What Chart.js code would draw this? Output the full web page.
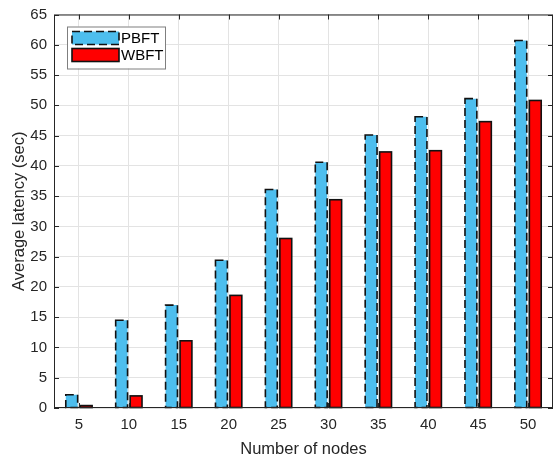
<!DOCTYPE html>
<html>
<head>
<meta charset="utf-8">
<script src="https://cdn.jsdelivr.net/npm/chart.js@4.4.1/dist/chart.umd.min.js"></script>
<style>
  html, body { margin: 0; padding: 0; background: #fff; }
  #wrap { width: 554px; height: 459px; }
</style>
</head>
<body>
<div id="wrap"><canvas id="latencyChart" width="554" height="459"></canvas></div>
<script>
// Data
const nodes = ['5', '10', '15', '20', '25', '30', '35', '40', '45', '50'];
const pbftLatency = [2.2, 14.5, 17.0, 24.4, 36.1, 40.6, 45.1, 48.1, 51.1, 60.7];
const wbftLatency = [0.4, 2.0, 11.1, 18.6, 28.0, 34.4, 42.3, 42.5, 47.3, 50.8];
const seriesNames = ['PBFT', 'WBFT'];
const seriesColors = ['#4DBEEE', '#FF0000'];

const axisColor = '#262626';
const fontFamily = "'Liberation Sans', Arial, Helvetica, sans-serif";

// Draws the MATLAB-like box, inward ticks, dashed PBFT outlines and legend
const matlabFrame = {
    id: 'matlabFrame',
    afterDatasetsDraw(chart) {
        const ctx = chart.ctx;
        const area = chart.chartArea;
        const xs = chart.scales.x;
        const ys = chart.scales.y;

        // dashed outline for first dataset, solid for second
        chart.data.datasets.forEach((ds, di) => {
            const meta = chart.getDatasetMeta(di);
            meta.data.forEach(el => {
                const left = el.x - el.width / 2;
                ctx.save();
                ctx.strokeStyle = '#111';
                ctx.lineWidth = 1.6;
                ctx.setLineDash(di === 0 ? [8, 4] : []);
                ctx.strokeRect(left, el.y, el.width, el.base - el.y);
                ctx.restore();
            });
        });

        // box
        ctx.save();
        ctx.strokeStyle = axisColor;
        ctx.lineWidth = 1;
        ctx.strokeRect(area.left + 0.5, area.top + 0.5, area.right - area.left - 1, area.bottom - area.top - 1);

        // inward ticks
        const tl = 5;
        ctx.beginPath();
        xs.ticks.forEach((t, i) => {
            const px = Math.round(xs.getPixelForTick(i)) + 0.5;
            ctx.moveTo(px, area.bottom);
            ctx.lineTo(px, area.bottom - tl);
            ctx.moveTo(px, area.top);
            ctx.lineTo(px, area.top + tl);
        });
        ys.ticks.forEach(t => {
            const py = Math.round(ys.getPixelForValue(t.value)) + 0.5;
            ctx.moveTo(area.left, py);
            ctx.lineTo(area.left + tl, py);
            ctx.moveTo(area.right, py);
            ctx.lineTo(area.right - tl, py);
        });
        ctx.stroke();

        // legend
        const lx = area.left + 13, ly = area.top + 12, lw = 98, lh = 42;
        ctx.fillStyle = '#fff';
        ctx.fillRect(lx, ly, lw, lh);
        ctx.strokeStyle = '#7f7f7f';
        ctx.lineWidth = 1;
        ctx.strokeRect(lx + 0.5, ly + 0.5, lw, lh);
        ctx.font = '15px ' + fontFamily;
        ctx.textBaseline = 'middle';
        seriesNames.forEach((name, i) => {
            const sy = ly + 5 + i * 17;
            ctx.fillStyle = seriesColors[i];
            ctx.fillRect(lx + 5, sy, 47, 13);
            ctx.strokeStyle = '#111';
            ctx.lineWidth = 1.6;
            ctx.setLineDash(i === 0 ? [8, 4] : []);
            ctx.strokeRect(lx + 5, sy, 47, 13);
            ctx.setLineDash([]);
            ctx.fillStyle = '#000';
            ctx.fillText(name, lx + 54, sy + 7);
        });
        ctx.restore();
    }
};

const ctx = document.getElementById('latencyChart').getContext('2d');
new Chart(ctx, {
    type: 'bar',
    data: {
        labels: nodes,
        datasets: [
            {
                label: seriesNames[0],
                data: pbftLatency,
                backgroundColor: seriesColors[0],
                borderWidth: 0
            },
            {
                label: seriesNames[1],
                data: wbftLatency,
                backgroundColor: seriesColors[1],
                borderWidth: 0
            }
        ]
    },
    options: {
        responsive: false,
        animation: false,
        categoryPercentage: 0.58,
        barPercentage: 0.82,
        layout: { padding: { top: 10, right: 1, left: 0, bottom: 0 } },
        plugins: {
            legend: { display: false },
            tooltip: { enabled: false }
        },
        scales: {
            x: {
                grid: { color: '#e3e3e3', offset: false, drawTicks: false },
                border: { display: false },
                ticks: {
                    color: axisColor,
                    padding: 8,
                    font: { size: 15, family: fontFamily }
                },
                title: {
                    display: true,
                    text: 'Number of nodes',
                    color: axisColor,
                    padding: { top: 0, bottom: 0 },
                    font: { size: 16.5, family: fontFamily }
                },
                afterFit: s => { s.height = 51; }
            },
            y: {
                min: 0,
                max: 65,
                grid: { color: '#e3e3e3', drawTicks: false },
                border: { display: false },
                ticks: {
                    stepSize: 5,
                    color: axisColor,
                    padding: 7,
                    font: { size: 15, family: fontFamily, lineHeight: 1 }
                },
                title: {
                    display: true,
                    text: 'Average latency (sec)',
                    color: axisColor,
                    padding: { top: 10, bottom: 0 },
                    font: { size: 16.5, family: fontFamily }
                },
                afterFit: s => { s.width = 54; }
            }
        }
    },
    plugins: [matlabFrame]
});
</script>
</body>
</html>
